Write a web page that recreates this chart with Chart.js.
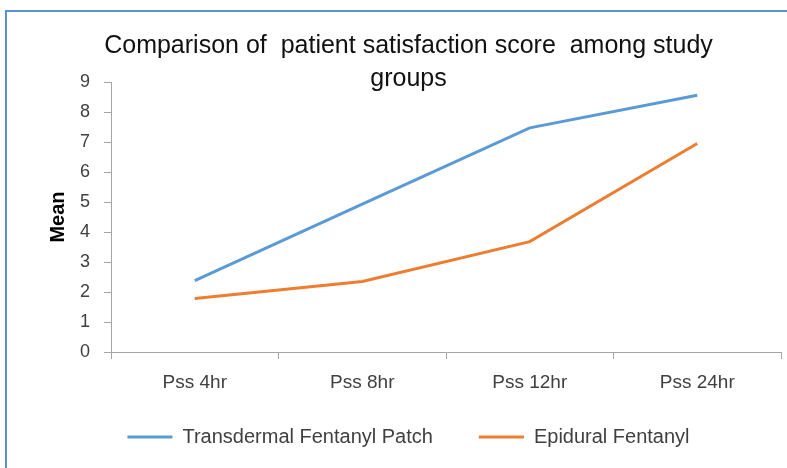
<!DOCTYPE html>
<html>
<head>
<meta charset="utf-8">
<script src="https://cdn.jsdelivr.net/npm/chart.js@4"></script>
<style>
  body { margin: 0; background: #fff; overflow: hidden; }
  #wrap { position: relative; width: 787px; height: 468px; }
  #frame {
    position: absolute; left: 5px; top: 10px; right: -10px; bottom: -10px;
    border-top: 2px solid #5b8fd0; border-left: 2px solid #5b8fd0;
    pointer-events: none;
  }
</style>
</head>
<body>
<div id="wrap">
  <canvas id="chart" width="787" height="468"></canvas>
  <div id="frame"></div>
</div>
<script>
const categories = ['Pss 4hr', 'Pss 8hr', 'Pss 12hr', 'Pss 24hr'];
const transdermal = [2.38, 4.93, 7.47, 8.56];
const epidural = [1.78, 2.35, 3.68, 6.95];
const titleLines = ['Comparison of  patient satisfaction score  among study', 'groups'];
const yMin = 0, yMax = 9, yStep = 1;

const FONT = "'Liberation Sans', Arial, sans-serif";
const axisGray = '#a6a6a6';

new Chart(document.getElementById('chart'), {
    type: 'line',
    data: {
        labels: categories,
        datasets: [
            {
                label: 'Transdermal Fentanyl Patch',
                data: transdermal,
                borderColor: '#5b9bd5',
                backgroundColor: '#5b9bd5',
                borderWidth: 3,
                tension: 0,
                pointRadius: 0
            },
            {
                label: 'Epidural Fentanyl',
                data: epidural,
                borderColor: '#ed7d31',
                backgroundColor: '#ed7d31',
                borderWidth: 3,
                tension: 0,
                pointRadius: 0
            }
        ]
    },
    options: {
        responsive: false,
        animation: false,
        layout: { padding: { left: 36, right: 6, top: 0, bottom: 11 } },
        plugins: {
            title: {
                display: true,
                text: titleLines,
                color: '#111',
                font: { family: FONT, size: 25, weight: 'normal', lineHeight: '33px' },
                padding: { top: 30, bottom: -14 }
            },
            legend: {
                position: 'bottom',
                // empty title with negative padding pulls the items up
                title: {
                    display: true,
                    text: '',
                    font: { family: FONT, size: 1, lineHeight: '0px' },
                    padding: { top: -16, bottom: 0 }
                },
                labels: {
                    usePointStyle: true,
                    pointStyle: 'line',
                    pointStyleWidth: 45,
                    padding: 46,
                    color: '#404040',
                    font: { family: FONT, size: 20 }
                }
            },
            tooltip: { enabled: false }
        },
        scales: {
            x: {
                offset: true,
                grid: { offset: true, drawOnChartArea: false, drawTicks: true, tickLength: 7, color: axisGray },
                border: { color: axisGray, width: 1 },
                ticks: { color: '#404040', padding: 12, font: { family: FONT, size: 19 } },
                afterFit: (s) => { s.height = 45; }
            },
            y: {
                min: yMin,
                max: yMax,
                grid: { drawOnChartArea: false, drawTicks: true, tickLength: 7, color: axisGray },
                border: { color: axisGray, width: 1 },
                ticks: { stepSize: yStep, color: '#404040', padding: 14, font: { family: FONT, size: 18 } },
                title: {
                    display: true,
                    text: 'Mean',
                    color: '#000',
                    font: { family: FONT, size: 20, weight: 'bold' },
                    padding: { top: 10, bottom: 0 }
                },
                afterFit: (s) => { s.width = 75; }
            }
        }
    }
});
</script>
</body>
</html>
